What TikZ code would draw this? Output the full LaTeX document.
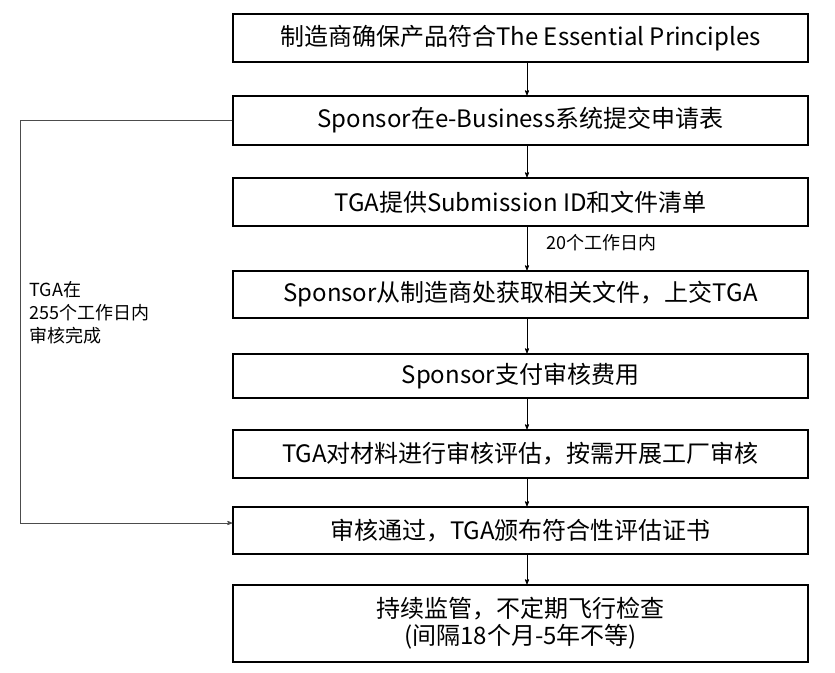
\documentclass[tikz,border=0pt]{standalone}
\usepackage{fontspec}
\setmainfont{Noto Sans CJK SC}
\usetikzlibrary{positioning,arrows}
\tikzset{
  stepbox/.style={draw=black, line width=1.6pt, minimum width=575pt, inner sep=2pt, align=center, font=\fontsize{24}{27}\selectfont},
  flow/.style={->, >=stealth', line width=0.8pt}
}
\begin{document}
\begin{tikzpicture}[x=1pt,y=-1pt]
    \useasboundingbox (0,0) rectangle (835,672);
    % main steps
    \node[stepbox, minimum height=48pt] (s1) at (520.5,38) {制造商确保产品符合The Essential Principles};
    \node[stepbox, minimum height=49pt] (s2) at (520.5,120.5) {Sponsor在e-Business系统提交申请表};
    \node[stepbox, minimum height=48pt] (s3) at (520.5,202) {TGA提供Submission ID和文件清单};
    \node[stepbox, minimum height=47pt] (s4) at (520.5,294.5) {Sponsor从制造商处获取相关文件，上交TGA};
    \node[stepbox, minimum height=44pt] (s5) at (520.5,376) {Sponsor支付审核费用};
    \node[stepbox, minimum height=48pt] (s6) at (520.5,454) {TGA对材料进行审核评估，按需开展工厂审核};
    \node[stepbox, minimum height=47pt] (s7) at (520.5,530.5) {审核通过，TGA颁布符合性评估证书};
    \node[stepbox, minimum height=77pt] (s8) at (520.5,623.5) {持续监管，不定期飞行检查\\(间隔18个月-5年不等)};

    % arrows
    \foreach \a/\b in {s1/s2, s2/s3, s3/s4, s4/s5, s5/s6, s6/s7, s7/s8}
        \draw[flow] ([xshift=6.5pt]\a.south) -- ([xshift=6.5pt]\b.north);
    \node[font=\fontsize{18}{21}\selectfont, anchor=west] (d20) at (543,243) {20个工作日内};

    % fast track
    \coordinate (c1) at (20,120.5);
    \coordinate (c2) at (20,523);
    \draw[line width=0.8pt, black!70] (s2.west) -- (c1) -- (c2);
    \draw[flow, black!70] (c2) -- (s7.west |- c2);
    \node[font=\fontsize{18}{23}\selectfont, align=left, anchor=north west] (d255) at (26,278) {TGA在\\255个工作日内\\审核完成};
\end{tikzpicture}
\end{document}
